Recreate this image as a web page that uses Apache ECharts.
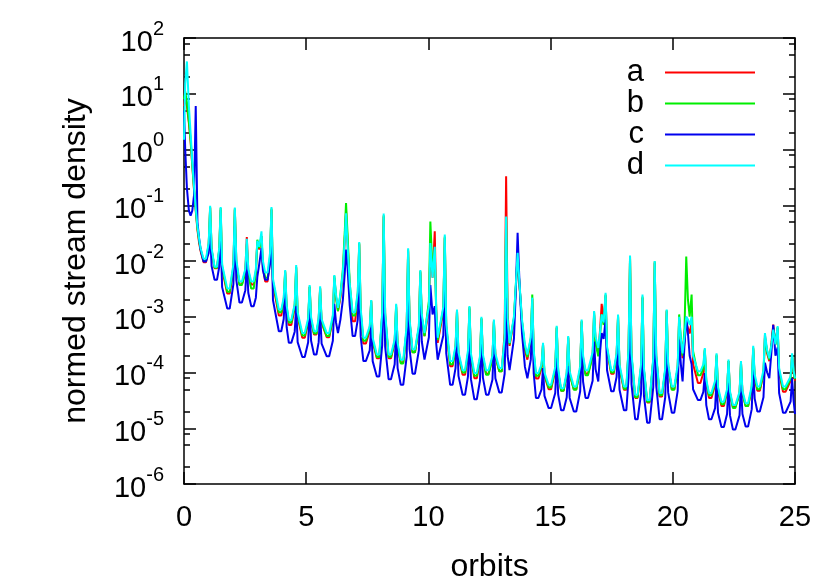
<!DOCTYPE html>
<html><head><meta charset="utf-8">
<script src="https://cdn.jsdelivr.net/npm/echarts@6/dist/echarts.min.js"></script>
<style>html,body{margin:0;padding:0;background:#fff}#c{width:830px;height:581px}</style>
</head><body><div id="c"></div>
<script>
const orbits = [
0, 0.05, 0.12, 0.2, 0.27, 0.34, 0.41, 0.48, 0.55, 0.62, 0.68, 0.8, 0.9,
1.01, 1.07, 1.13, 1.25, 1.35, 1.44, 1.5, 1.56, 1.77, 1.87,
2.02, 2.08, 2.14, 2.27, 2.37, 2.51, 2.57, 2.63, 2.75, 2.85, 2.94,
3.0, 3.08, 3.17, 3.23, 3.32, 3.42, 3.52, 3.58, 3.64, 3.88, 3.98,
4.08, 4.14, 4.2, 4.29, 4.39, 4.53, 4.59, 4.65, 4.84, 4.94,
5.08, 5.14, 5.2, 5.32, 5.42, 5.51, 5.57, 5.63, 5.84, 5.94,
6.09, 6.15, 6.22, 6.3, 6.4, 6.5, 6.58, 6.63, 6.69, 6.78, 6.9, 7.0,
7.11, 7.17, 7.23, 7.34, 7.44, 7.6, 7.66, 7.72, 7.89, 7.99,
8.11, 8.17, 8.23, 8.37, 8.47, 8.62, 8.68, 8.74, 8.87, 8.97,
9.11, 9.17, 9.23, 9.35, 9.45, 9.61, 9.67, 9.73, 9.84, 9.92,
10.02, 10.08, 10.17, 10.26, 10.32, 10.38, 10.46, 10.61, 10.67, 10.73, 10.89, 10.99,
11.11, 11.17, 11.23, 11.4, 11.5, 11.62, 11.68, 11.74, 11.88, 11.98,
12.11, 12.17, 12.23, 12.36, 12.46, 12.62, 12.68, 12.74, 12.9, 13.0,
13.12, 13.18, 13.24, 13.32, 13.4, 13.5, 13.58, 13.65, 13.72, 13.83, 13.95, 14.05,
14.19, 14.25, 14.31, 14.4, 14.5, 14.63, 14.69, 14.75, 14.92, 15.02,
15.19, 15.25, 15.31, 15.43, 15.53, 15.66, 15.72, 15.78, 15.95, 16.05,
16.21, 16.27, 16.33, 16.43, 16.53, 16.72, 16.78, 16.84, 16.95, 17.03,
17.09, 17.17, 17.25, 17.31, 17.48, 17.58, 17.7, 17.76, 17.82, 18.0, 18.1,
18.19, 18.25, 18.31, 18.46, 18.56, 18.7, 18.76, 18.82, 18.95, 19.05,
19.2, 19.26, 19.32, 19.46, 19.56, 19.69, 19.75, 19.81, 19.96, 20.06,
20.2, 20.26, 20.33, 20.4, 20.48, 20.55, 20.62, 20.69, 20.77, 20.83, 21.03, 21.13,
21.25, 21.31, 21.37, 21.48, 21.58, 21.73, 21.79, 21.85, 21.99, 22.09,
22.22, 22.28, 22.34, 22.46, 22.56, 22.73, 22.79, 22.85, 22.98, 23.08,
23.23, 23.29, 23.35, 23.46, 23.56, 23.71, 23.77, 23.86, 23.95, 24.04,
24.11, 24.2, 24.29, 24.35, 24.51, 24.61, 24.82, 24.88, 24.94, 25.0
];

const seriesA = [
6, 9, 6, 3, 1.4, 0.5, 0.19, 0.08, 0.036, 0.021, 0.015, 9.5e-3, 9.5e-3,
1.9e-2, 8.9e-2, 1.55e-2, 7.4e-3, 7.4e-3, 1.5e-2, 8.3e-2, 7.2e-3, 2.6e-3, 2.6e-3,
7.2e-3, 8.3e-2, 9.5e-3, 3.8e-3, 3.8e-3, 6.8e-3, 2.7e-2, 6.8e-3, 3.8e-3, 3.8e-3, 6.5e-3,
2.2e-2, 1.6e-2, 2.8e-2, 7.6e-3, 4.3e-3, 4.3e-3, 1.05e-2, 8.3e-2, 3.9e-3, 1.05e-3, 1.05e-3,
1.8e-3, 6.3e-3, 1.35e-3, 7.1e-4, 7.1e-4, 1.45e-3, 7.6e-3, 1.0e-3, 4.2e-4, 4.2e-4,
7.8e-4, 3.4e-3, 8.5e-4, 4.8e-4, 4.8e-4, 8.5e-4, 3.2e-3, 7.8e-4, 4.3e-4, 4.3e-4,
8.9e-4, 5.0e-3, 2.2e-3, 1.26e-3, 2.2e-3, 5.6e-3, 2.5e-2, 7.8e-2, 2.2e-2, 3.5e-3, 8.3e-4, 8.3e-4,
2.1e-3, 2.0e-2, 1.1e-3, 3.3e-4, 3.3e-4, 5.6e-4, 1.9e-3, 3.6e-4, 1.8e-4, 1.8e-4,
1.05e-3, 6.3e-2, 1.05e-3, 1.8e-4, 1.8e-4, 3.5e-4, 1.5e-3, 3.0e-4, 1.5e-4, 1.5e-4,
5.9e-4, 1.5e-2, 8.1e-4, 2.3e-4, 2.3e-4, 6.2e-4, 6.3e-3, 9.8e-4, 4.5e-4, 4.5e-4,
1.35e-3, 1.8e-2, 5.0e-3, 3.4e-2, 1.35e-3, 3.4e-4, 3.4e-4, 1.26e-3, 2.6e-2, 6.3e-4, 1.3e-4, 1.3e-4,
2.6e-4, 1.26e-3, 2.0e-4, 9.1e-5, 9.1e-5, 2.1e-4, 1.4e-3, 1.9e-4, 7.9e-5, 7.9e-5,
1.66e-4, 9.1e-4, 1.9e-4, 9.5e-5, 9.5e-5, 1.8e-4, 8.1e-4, 1.95e-4, 1.05e-4, 1.05e-4,
5.2e-4, 3.3e-1, 1.2e-3, 3.0e-4, 3.0e-4, 8.9e-4, 3.5e-3, 1.26e-2, 4.0e-3, 7.9e-4, 2.5e-4, 1.7e-4,
3.6e-4, 2.1e-3, 2.1e-4, 7.8e-5, 7.8e-5, 1.2e-4, 3.2e-4, 8.7e-5, 5.0e-5, 5.0e-5,
1.07e-4, 6.3e-4, 1.0e-4, 4.7e-5, 4.7e-5, 9.1e-5, 4.2e-4, 9.3e-5, 5.0e-5, 5.0e-5,
1.15e-4, 8.1e-4, 1.8e-4, 9.5e-5, 9.5e-5, 2.0e-4, 1.1e-3, 3.6e-4, 2.2e-4, 6.3e-4,
1.7e-3, 7.9e-4, 2.4e-3, 2.5e-4, 9.5e-5, 9.5e-5, 1.95e-4, 1.0e-3, 1.2e-4, 4.9e-5, 4.9e-5,
2.5e-4, 1.1e-2, 1.95e-4, 3.5e-5, 3.5e-5, 1.2e-4, 2.2e-3, 1.07e-4, 2.9e-5, 2.9e-5,
1.6e-4, 9.3e-3, 1.95e-4, 3.7e-5, 3.7e-5, 1.07e-4, 1.26e-3, 1.3e-4, 5.0e-5, 5.0e-5,
1.2e-4, 8.9e-4, 3.5e-4, 1.8e-4, 3.5e-4, 7.9e-4, 6.3e-4, 5.0e-4, 7.9e-4, 1.4e-4, 6.5e-5, 6.5e-5,
9.8e-5, 2.5e-4, 6.3e-5, 3.5e-5, 3.5e-5, 6.0e-5, 2.0e-4, 4.7e-5, 2.5e-5, 2.5e-5,
4.4e-5, 1.6e-4, 4.3e-5, 2.4e-5, 2.4e-5, 4.2e-5, 1.5e-4, 4.3e-5, 2.5e-5, 2.5e-5,
5.1e-5, 2.7e-4, 7.9e-5, 4.7e-5, 4.7e-5, 9.3e-5, 4.7e-4, 2.2e-4, 1.6e-4, 3.5e-4,
7.2e-4, 3.2e-4, 6.3e-4, 1.0e-4, 4.5e-5, 4.5e-5, 7.1e-5, 2.0e-4, 1.0e-4, 7.1e-5
];

const seriesB = [
8, 11, 7, 3.2, 1.5, 0.55, 0.2, 0.085, 0.039, 0.023, 0.016, 1.0e-2, 1.0e-2,
2.0e-2, 9.3e-2, 1.6e-2, 7.6e-3, 7.6e-3, 1.6e-2, 8.9e-2, 7.9e-3, 2.8e-3, 2.8e-3,
7.9e-3, 8.7e-2, 9.5e-3, 3.7e-3, 3.7e-3, 6.2e-3, 2.0e-2, 5.6e-3, 3.2e-3, 3.2e-3, 5.9e-3,
2.4e-2, 1.7e-2, 2.8e-2, 8.3e-3, 5.0e-3, 5.0e-3, 1.2e-2, 8.7e-2, 4.3e-3, 1.2e-3, 1.2e-3,
2.0e-3, 6.6e-3, 1.5e-3, 7.9e-4, 7.9e-4, 1.6e-3, 7.9e-3, 1.07e-3, 4.6e-4, 4.6e-4,
8.5e-4, 3.5e-3, 8.9e-4, 5.0e-4, 5.0e-4, 8.9e-4, 3.3e-3, 8.1e-4, 4.5e-4, 4.5e-4,
9.3e-4, 5.4e-3, 2.3e-3, 1.26e-3, 2.5e-3, 7.1e-3, 3.5e-2, 1.1e-1, 3.2e-2, 4.0e-3, 1.05e-3, 1.05e-3,
2.6e-3, 2.1e-2, 1.26e-3, 3.7e-4, 3.7e-4, 6.2e-4, 1.95e-3, 3.8e-4, 1.9e-4, 1.9e-4,
1.1e-3, 6.6e-2, 1.1e-3, 1.9e-4, 1.9e-4, 3.6e-4, 1.6e-3, 3.0e-4, 1.45e-4, 1.45e-4,
5.9e-4, 1.6e-2, 8.3e-4, 2.3e-4, 2.3e-4, 6.5e-4, 6.6e-3, 1.0e-3, 4.5e-4, 4.5e-4,
1.9e-3, 5.1e-2, 6.3e-3, 1.6e-2, 1.2e-3, 3.8e-4, 3.8e-4, 1.4e-3, 2.75e-2, 6.9e-4, 1.4e-4, 1.4e-4,
2.75e-4, 1.3e-3, 2.1e-4, 1.0e-4, 1.0e-4, 2.2e-4, 1.5e-3, 2.0e-4, 8.7e-5, 8.7e-5,
1.8e-4, 9.5e-4, 1.9e-4, 9.1e-5, 9.1e-5, 1.8e-4, 8.5e-4, 2.0e-4, 1.05e-4, 1.05e-4,
3.7e-4, 6.0e-2, 9.1e-4, 3.2e-4, 3.2e-4, 9.5e-4, 3.8e-3, 1.3e-2, 4.2e-3, 8.3e-4, 2.8e-4, 1.9e-4,
4.1e-4, 2.5e-3, 2.3e-4, 8.7e-5, 8.7e-5, 1.3e-4, 3.2e-4, 9.1e-5, 5.4e-5, 5.4e-5,
1.15e-4, 6.6e-4, 1.05e-4, 4.7e-5, 4.7e-5, 9.1e-5, 4.3e-4, 9.5e-5, 4.9e-5, 4.9e-5,
1.15e-4, 8.5e-4, 1.7e-4, 8.9e-5, 8.9e-5, 1.95e-4, 1.2e-3, 3.4e-4, 1.95e-4, 5.0e-4,
1.1e-3, 7.1e-4, 2.5e-3, 2.7e-4, 1.0e-4, 1.0e-4, 2.0e-4, 1.05e-3, 1.26e-4, 5.1e-5, 5.1e-5,
2.6e-4, 1.2e-2, 2.0e-4, 3.6e-5, 3.6e-5, 1.26e-4, 2.3e-3, 1.1e-4, 3.0e-5, 3.0e-5,
1.7e-4, 9.8e-3, 2.0e-4, 3.9e-5, 3.9e-5, 1.1e-4, 1.3e-3, 1.3e-4, 4.9e-5, 4.9e-5,
1.2e-4, 1.1e-3, 4.0e-4, 2.0e-4, 6.3e-4, 1.2e-2, 2.0e-3, 1.0e-3, 2.5e-3, 2.4e-4, 8.9e-5, 8.9e-5,
1.2e-4, 2.6e-4, 6.9e-5, 3.9e-5, 3.9e-5, 6.5e-5, 2.1e-4, 5.0e-5, 2.7e-5, 2.7e-5,
4.6e-5, 1.6e-4, 4.2e-5, 2.3e-5, 2.3e-5, 4.1e-5, 1.5e-4, 4.3e-5, 2.5e-5, 2.5e-5,
5.2e-5, 2.8e-4, 8.3e-5, 5.0e-5, 5.0e-5, 9.5e-5, 4.2e-4, 2.4e-4, 1.7e-4, 3.2e-4,
6.3e-4, 3.2e-4, 6.5e-4, 1.07e-4, 5.0e-5, 5.0e-5, 7.8e-5, 2.1e-4, 1.05e-4, 7.6e-5
];

const seriesC = [
5, 1.0, 0.2, 0.08, 0.065, 0.08, 0.15, 6, 0.05, 0.025, 0.016, 9.8e-3, 9.8e-3,
1.4e-2, 3.2e-2, 8.1e-3, 4.6e-3, 4.6e-3, 7.8e-3, 2.75e-2, 3.4e-3, 1.4e-3, 1.4e-3,
3.8e-3, 4.2e-2, 4.6e-3, 1.8e-3, 1.8e-3, 3.0e-3, 9.8e-3, 2.7e-3, 1.55e-3, 1.55e-3, 2.2e-3,
5.2e-3, 8.9e-3, 1.7e-2, 6.8e-3, 4.6e-3, 4.6e-3, 8.9e-3, 4.2e-2, 2.0e-3, 5.5e-4, 5.5e-4,
9.1e-4, 3.0e-3, 6.5e-4, 3.4e-4, 3.4e-4, 5.4e-4, 1.55e-3, 3.5e-4, 1.9e-4, 1.9e-4,
3.5e-4, 1.45e-3, 3.7e-4, 2.1e-4, 2.1e-4, 3.5e-4, 1.2e-3, 3.3e-4, 1.95e-4, 1.95e-4,
3.7e-4, 1.7e-3, 7.9e-4, 5.1e-4, 8.9e-4, 2.0e-3, 6.3e-3, 1.6e-2, 7.9e-3, 1.6e-3, 4.5e-4, 4.5e-4,
8.9e-4, 4.6e-3, 4.4e-4, 1.6e-4, 1.6e-4, 2.5e-4, 7.2e-4, 1.6e-4, 8.5e-5, 8.5e-5,
3.1e-4, 6.0e-3, 2.9e-4, 7.6e-5, 7.6e-5, 1.4e-4, 5.9e-4, 1.2e-4, 6.0e-5, 6.0e-5,
1.9e-4, 2.7e-3, 2.6e-4, 9.5e-5, 9.5e-5, 2.5e-4, 2.2e-3, 3.6e-4, 1.7e-4, 1.7e-4,
4.3e-4, 3.7e-3, 1.1e-3, 1.55e-3, 3.3e-4, 1.7e-4, 1.7e-4, 4.6e-4, 4.6e-3, 2.2e-4, 6.0e-5, 6.0e-5,
1.2e-4, 5.5e-4, 8.7e-5, 4.0e-5, 4.0e-5, 8.5e-5, 5.1e-4, 7.6e-5, 3.3e-5, 3.3e-5,
7.1e-5, 4.2e-4, 8.1e-5, 4.0e-5, 4.0e-5, 7.4e-5, 3.2e-4, 7.9e-5, 4.4e-5, 4.4e-5,
9.5e-5, 2.2e-3, 2.0e-4, 1.1e-4, 1.1e-4, 4.0e-4, 3.2e-3, 3.2e-2, 5.0e-3, 5.0e-4, 1.26e-4, 7.9e-5,
1.7e-4, 1.0e-3, 9.5e-5, 3.5e-5, 3.5e-5, 5.0e-5, 1.2e-4, 3.8e-5, 2.3e-5, 2.3e-5,
4.3e-5, 1.8e-4, 4.0e-5, 2.1e-5, 2.1e-5, 3.6e-5, 1.3e-4, 3.5e-5, 2.0e-5, 2.0e-5,
4.6e-5, 3.2e-4, 6.8e-5, 3.5e-5, 3.5e-5, 7.1e-5, 3.6e-4, 1.15e-4, 6.9e-5, 2.5e-4,
5.1e-4, 4.0e-4, 8.9e-4, 1.1e-4, 4.6e-5, 4.6e-5, 8.3e-5, 3.4e-4, 4.9e-5, 2.1e-5, 2.1e-5,
8.1e-5, 1.8e-3, 6.2e-5, 1.45e-5, 1.45e-5, 4.2e-5, 5.0e-4, 3.8e-5, 1.26e-5, 1.26e-5,
5.4e-5, 1.6e-3, 5.9e-5, 1.45e-5, 1.45e-5, 3.6e-5, 3.2e-4, 4.4e-5, 1.9e-5, 1.9e-5,
4.7e-5, 3.9e-4, 1.4e-4, 6.9e-5, 3.2e-4, 1.0e-3, 5.0e-4, 2.0e-4, 1.4e-4, 5.0e-5, 3.2e-5, 3.2e-5,
4.5e-5, 9.8e-5, 2.6e-5, 1.45e-5, 1.45e-5, 2.3e-5, 7.4e-5, 1.9e-5, 1.05e-5, 1.05e-5,
1.8e-5, 6.5e-5, 1.7e-5, 9.5e-6, 9.5e-6, 1.7e-5, 6.0e-5, 1.8e-5, 1.07e-5, 1.07e-5,
2.2e-5, 1.1e-4, 3.4e-5, 2.0e-5, 2.0e-5, 3.6e-5, 1.5e-4, 1.0e-4, 7.9e-5, 2.5e-4,
7.2e-4, 2.0e-4, 2.8e-4, 4.3e-5, 1.9e-5, 1.9e-5, 3.0e-5, 7.9e-5, 3.2e-5, 1.8e-5
];

const seriesD = [
1.5, 15, 38, 6, 2.0, 0.6, 0.22, 0.09, 0.042, 0.025, 0.017, 1.1e-2, 1.1e-2,
2.1e-2, 9.8e-2, 1.7e-2, 7.9e-3, 7.9e-3, 1.66e-2, 9.3e-2, 8.7e-3, 3.2e-3, 3.2e-3,
8.7e-3, 9.1e-2, 1.07e-2, 4.3e-3, 4.3e-3, 7.2e-3, 2.5e-2, 7.2e-3, 4.3e-3, 4.3e-3, 7.1e-3,
2.3e-2, 1.8e-2, 3.4e-2, 1.0e-2, 6.2e-3, 6.2e-3, 1.4e-2, 9.3e-2, 4.8e-3, 1.35e-3, 1.35e-3,
2.2e-3, 6.9e-3, 1.6e-3, 8.7e-4, 8.7e-4, 1.7e-3, 8.5e-3, 1.2e-3, 5.1e-4, 5.1e-4,
9.3e-4, 3.7e-3, 9.8e-4, 5.5e-4, 5.5e-4, 9.5e-4, 3.5e-3, 9.1e-4, 5.1e-4, 5.1e-4,
1.05e-3, 5.6e-3, 2.5e-3, 1.45e-3, 2.5e-3, 6.3e-3, 2.5e-2, 7.2e-2, 2.0e-2, 4.0e-3, 1.2e-3, 1.2e-3,
2.8e-3, 2.2e-2, 1.4e-3, 4.2e-4, 4.2e-4, 6.8e-4, 2.0e-3, 4.2e-4, 2.1e-4, 2.1e-4,
1.2e-3, 7.1e-2, 1.2e-3, 2.1e-4, 2.1e-4, 3.9e-4, 1.7e-3, 3.4e-4, 1.7e-4, 1.7e-4,
6.8e-4, 1.7e-2, 9.1e-4, 2.6e-4, 2.6e-4, 6.9e-4, 6.9e-3, 1.1e-3, 5.1e-4, 5.1e-4,
1.55e-3, 2.1e-2, 5.0e-3, 1.8e-2, 1.3e-3, 4.2e-4, 4.2e-4, 1.5e-3, 3.0e-2, 7.6e-4, 1.6e-4, 1.6e-4,
3.0e-4, 1.35e-3, 2.3e-4, 1.1e-4, 1.1e-4, 2.5e-4, 1.55e-3, 2.2e-4, 9.8e-5, 9.8e-5,
1.95e-4, 1.0e-3, 2.1e-4, 1.1e-4, 1.1e-4, 2.0e-4, 8.9e-4, 2.2e-4, 1.2e-4, 1.2e-4,
4.2e-4, 6.3e-2, 9.5e-4, 3.4e-4, 3.4e-4, 1.0e-3, 4.0e-3, 1.4e-2, 4.5e-3, 8.9e-4, 3.2e-4, 2.1e-4,
4.3e-4, 2.2e-3, 2.5e-4, 9.8e-5, 9.8e-5, 1.4e-4, 3.4e-4, 1.0e-4, 6.0e-5, 6.0e-5,
1.26e-4, 6.9e-4, 1.15e-4, 5.2e-5, 5.2e-5, 1.0e-4, 4.5e-4, 1.05e-4, 5.6e-5, 5.6e-5,
1.3e-4, 8.9e-4, 2.0e-4, 1.1e-4, 1.1e-4, 2.3e-4, 1.26e-3, 4.4e-4, 2.75e-4, 5.6e-4,
1.1e-3, 7.9e-4, 2.7e-3, 2.9e-4, 1.1e-4, 1.1e-4, 2.2e-4, 1.1e-3, 1.4e-4, 5.6e-5, 5.6e-5,
2.8e-4, 1.26e-2, 2.2e-4, 4.0e-5, 4.0e-5, 1.4e-4, 2.5e-3, 1.2e-4, 3.2e-5, 3.2e-5,
1.8e-4, 1.0e-2, 2.2e-4, 4.3e-5, 4.3e-5, 1.2e-4, 1.35e-3, 1.45e-4, 5.6e-5, 5.6e-5,
1.35e-4, 1.0e-3, 4.0e-4, 2.2e-4, 4.5e-4, 1.0e-3, 8.9e-4, 7.1e-4, 1.0e-3, 2.0e-4, 1.05e-4, 1.05e-4,
1.4e-4, 2.75e-4, 7.4e-5, 4.3e-5, 4.3e-5, 7.1e-5, 2.2e-4, 5.5e-5, 3.0e-5, 3.0e-5,
5.0e-5, 1.7e-4, 4.6e-5, 2.6e-5, 2.6e-5, 4.5e-5, 1.6e-4, 4.7e-5, 2.8e-5, 2.8e-5,
5.8e-5, 3.0e-4, 9.3e-5, 5.6e-5, 5.6e-5, 1.1e-4, 5.1e-4, 2.5e-4, 1.8e-4, 3.2e-4,
5.9e-4, 3.2e-4, 6.8e-4, 1.2e-4, 5.6e-5, 5.6e-5, 8.5e-5, 2.2e-4, 1.1e-4, 7.9e-5
];

const seriesNames = ['a', 'b', 'c', 'd'];
const seriesColors = ['#ff0000', '#00ee00', '#0000ee', '#00ffff'];
const seriesValues = [seriesA, seriesB, seriesC, seriesD];
const minorMultipliers = [2, 5, 8];

const FONT = '"Liberation Sans", Arial, Helvetica, sans-serif';
const minorTickPos = [];
for (let k = -6; k <= 1; k++) for (const m of minorMultipliers) minorTickPos.push(Math.log10(m) + k);

const axisLineStyle = { color: '#000', width: 1.5 };
const chart = echarts.init(document.getElementById('c'), null, { renderer: 'canvas' });
chart.setOption({
  animation: false,
  backgroundColor: '#fff',
  textStyle: { fontFamily: FONT, color: '#000' },
  grid: { left: 184, right: 35, top: 38, bottom: 97, containLabel: false, outerBoundsMode: 'none' },
  legend: {
    data: seriesNames.map(n => ({ name: n, icon: 'rect' })),
    orient: 'vertical', right: 70, top: 52, align: 'right',
    itemWidth: 90, itemHeight: 2, itemGap: 0,
    textStyle: { fontSize: 31, fontFamily: FONT, color: '#000', padding: [0, 16, 0, 0] },
    selectedMode: false
  },
  xAxis: [
    { type: 'value', min: 0, max: 25, interval: 5, position: 'bottom',
      axisLine: { onZero: false, lineStyle: axisLineStyle },
      axisTick: { inside: true, length: 12, lineStyle: axisLineStyle },
      axisLabel: { fontSize: 29, fontFamily: FONT, color: '#000', margin: 19 },
      splitLine: { show: false },
      name: 'orbits', nameLocation: 'middle', nameGap: 67,
      nameTextStyle: { fontSize: 32, fontFamily: FONT, color: '#000' } },
    { type: 'value', min: 0, max: 25, interval: 5, position: 'top',
      axisLine: { onZero: false, lineStyle: axisLineStyle },
      axisTick: { inside: true, length: 12, lineStyle: axisLineStyle },
      axisLabel: { show: false }, splitLine: { show: false } }
  ],
  yAxis: [
    { type: 'log', logBase: 10, min: 1e-6, max: 1e2, splitNumber: 8, position: 'left',
      axisLine: { onZero: false, lineStyle: axisLineStyle },
      axisTick: { inside: true, length: 12, lineStyle: axisLineStyle },
      axisLabel: {
        margin: 20, color: '#000',
        formatter: v => '{b|10}{s|' + Math.round(Math.log10(v)) + '}',
        rich: {
          b: { fontSize: 29, fontFamily: FONT, color: '#000', verticalAlign: 'bottom', lineHeight: 38 },
          s: { fontSize: 20, fontFamily: FONT, color: '#000', verticalAlign: 'top', lineHeight: 38 }
        }
      },
      splitLine: { show: false },
      name: 'normed stream density', nameLocation: 'middle', nameGap: 92,
      nameTextStyle: { fontSize: 32, fontFamily: FONT, color: '#000' } },
    { type: 'value', min: -6, max: 2, position: 'left',
      axisLine: { show: false, onZero: false },
      axisTick: { inside: true, length: 6, customValues: minorTickPos, lineStyle: axisLineStyle },
      axisLabel: { show: false }, splitLine: { show: false } },
    { type: 'log', logBase: 10, min: 1e-6, max: 1e2, splitNumber: 8, position: 'right',
      axisLine: { onZero: false, lineStyle: axisLineStyle },
      axisTick: { inside: true, length: 12, lineStyle: axisLineStyle },
      axisLabel: { show: false }, splitLine: { show: false } },
    { type: 'value', min: -6, max: 2, position: 'right',
      axisLine: { show: false, onZero: false },
      axisTick: { inside: true, length: 6, customValues: minorTickPos, lineStyle: axisLineStyle },
      axisLabel: { show: false }, splitLine: { show: false } }
  ],
  series: seriesNames.map((n, i) => ({
    name: n, type: 'line', xAxisIndex: 0, yAxisIndex: 0,
    data: orbits.map((x, j) => [x, seriesValues[i][j]]),
    showSymbol: false, symbol: 'none',
    lineStyle: { color: seriesColors[i], width: 2 },
    itemStyle: { color: seriesColors[i] },
    emphasis: { disabled: true }
  }))
});
</script>
</body></html>
